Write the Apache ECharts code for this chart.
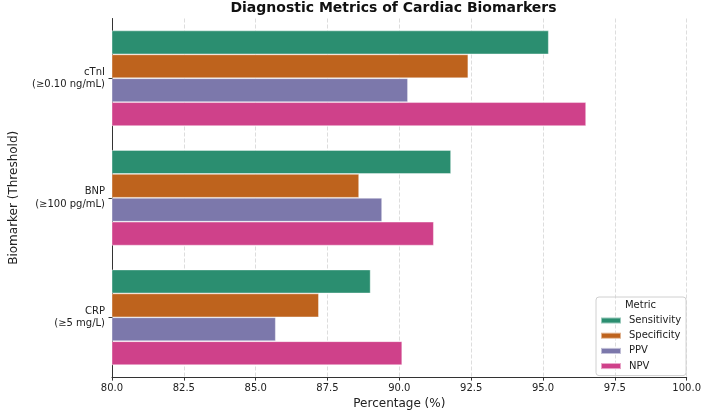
<!DOCTYPE html>
<html>
<head>
<meta charset="utf-8">
<script src="https://cdn.jsdelivr.net/npm/echarts@6/dist/echarts.min.js"></script>
<style>
  html, body { margin: 0; padding: 0; background: #fff; }
  #chart { width: 704px; height: 415px; }
</style>
</head>
<body>
<div id="chart"></div>
<script>
// biomarkers, top to bottom
const biomarkers = ['cTnI\n(≥0.10 ng/mL)', 'BNP\n(≥100 pg/mL)', 'CRP\n(≥5 mg/L)'];
const metrics = ['Sensitivity', 'Specificity', 'PPV', 'NPV'];

const sensitivity = [95.2, 91.8, 89.0];
const specificity = [92.4, 88.6, 87.2];
const ppv = [90.3, 89.4, 85.7];
const npv = [96.5, 91.2, 90.1];

const xTicks = [80, 82.5, 85, 87.5, 90, 92.5, 95, 97.5, 100];

const colors = ['#2b8e70', '#be631d', '#7c78ab', '#cf418a'];
const font = 'DejaVu Sans';

const chart = echarts.init(document.getElementById('chart'));

const values = [sensitivity, specificity, ppv, npv];

const option = {
  animation: false,
  backgroundColor: '#fff',
  textStyle: { fontFamily: font },
  title: [
    {
      text: 'Diagnostic Metrics of Cardiac Biomarkers',
      left: 393.5,
      top: 1.5,
      padding: 0,
      textAlign: 'center',
      textStyle: { fontFamily: font, fontSize: 14, fontWeight: 'bold', color: '#111' }
    },
    {
      text: 'Metric',
      left: 640.5,
      top: 300,
      padding: 0,
      textAlign: 'center',
      textStyle: { fontFamily: font, fontSize: 10, fontWeight: 'normal', color: '#222' }
    }
  ],
  legend: {
    orient: 'vertical',
    left: 596,
    top: 297,
    padding: [17, 5, 3, 4],
    itemWidth: 20,
    itemHeight: 6,
    itemGap: 2.2,
    borderColor: '#d0d0d0',
    borderWidth: 1,
    borderRadius: 3,
    icon: 'rect',
    data: metrics,
    textStyle: { fontFamily: font, fontSize: 10, color: '#222', lineHeight: 13, padding: [0, 0, 0, 3] }
  },
  grid: { left: 97, right: 14, top: 18.5, bottom: 33, containLabel: false },
  xAxis: {
    type: 'value',
    min: xTicks[0],
    max: xTicks[xTicks.length - 1],
    interval: 2.5,
    name: 'Percentage (%)',
    nameLocation: 'middle',
    nameGap: 18,
    nameTextStyle: { fontFamily: font, fontSize: 12, color: '#222' },
    axisLine: { show: true, lineStyle: { color: '#333', width: 1 } },
    axisTick: { show: true, length: 3.5, lineStyle: { color: '#333' } },
    axisLabel: {
      fontFamily: font, fontSize: 10, color: '#222', margin: 6,
      formatter: v => v.toFixed(1)
    },
    splitLine: { show: true, lineStyle: { color: '#d4d4d4', type: [4, 2], width: 0.8 } }
  },
  yAxis: {
    type: 'category',
    inverse: true,
    data: biomarkers,
    name: 'Biomarker (Threshold)',
    nameLocation: 'middle',
    nameGap: 92,
    nameTextStyle: { fontFamily: font, fontSize: 12, color: '#222' },
    axisLine: { show: true, lineStyle: { color: '#333', width: 1 } },
    axisTick: { show: true, alignWithLabel: true, length: 3.5, lineStyle: { color: '#333' } },
    axisLabel: {
      fontFamily: font, fontSize: 10, color: '#222', margin: 7,
      lineHeight: 12.4, align: 'right'
    },
    splitLine: { show: false }
  },
  series: metrics.map((m, i) => ({
    name: m,
    type: 'bar',
    data: values[i],
    barGap: '0%',
    barCategoryGap: '20%',
    itemStyle: { color: colors[i], borderColor: 'rgba(255,255,255,0.5)', borderWidth: 0.8 },
    emphasis: { disabled: true }
  }))
};

chart.setOption(option);
</script>
</body>
</html>
